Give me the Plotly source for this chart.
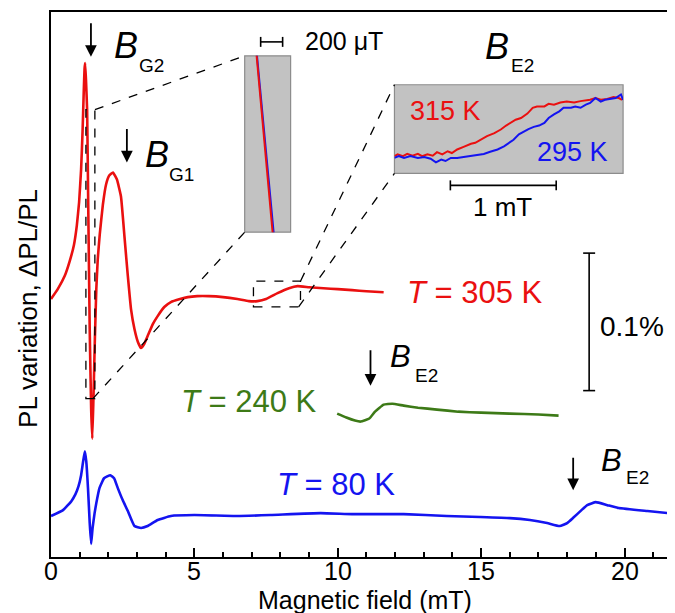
import plotly.graph_objects as go

# ---------------- data ----------------
# main traces: field in mT, ΔPL/PL in units of 1e-4 (0.01 %), relative to each trace's baseline
field_305 = [0.0, 0.24, 0.48, 0.65, 0.80, 0.90, 0.98, 1.05, 1.10, 1.14, 1.17, 1.19, 1.22, 1.26, 1.30, 1.35,
             1.40, 1.44, 1.48, 1.53, 1.58, 1.63, 1.70, 1.81, 1.92, 2.03, 2.16, 2.30, 2.44, 2.57, 2.68,
             2.79, 2.91, 3.03, 3.14, 3.25, 3.37, 3.55, 3.72, 3.95, 4.18, 4.5, 4.77, 5.1, 5.5, 6.0,
             6.5, 6.9, 7.2, 7.5, 7.9, 8.3, 8.6, 9.0, 9.5, 10.0, 10.5, 11.0, 11.6]
dpl_305 = [-0.14, 0.6, 1.55, 2.6, 3.8, 5.2, 6.9, 9.3, 12.0, 14.8, 16.6, 17.03, 15.8, 13.6, 6.38, -2.32,
           -8.12, -10.29, -7.39, -3.04, 0.58, 2.75, 4.57, 6.74, 8.19, 8.84, 9.06, 8.55, 7.32, 4.20, 1.52,
           -0.87, -2.32, -3.26, -3.70, -3.41, -2.83, -1.96, -1.38, -0.72, -0.36, -0.14, 0.0, 0.07, 0.07, 0.0,
           -0.14, -0.29, -0.29, -0.14, 0.29, 0.65, 0.80, 0.72, 0.65, 0.58, 0.51, 0.43, 0.36]

field_240 = [9.98, 10.3, 10.6, 10.8, 11.1, 11.3, 11.6, 11.9, 12.3, 12.8, 13.46, 14.2, 15.0, 16.0, 17.0, 17.7]
dpl_240 = [-0.07, -0.36, -0.58, -0.65, -0.43, 0.07, 0.58, 0.65, 0.51, 0.36, 0.22, 0.07, 0.0, -0.07, -0.14, -0.22]

field_80 = [0.0, 0.42, 0.71, 0.85, 0.96, 1.05, 1.12, 1.18, 1.23, 1.29, 1.35, 1.40, 1.45, 1.52, 1.58, 1.69, 1.85,
            2.07, 2.2, 2.33, 2.5, 2.68, 2.91, 3.14, 3.37, 3.72, 4.18, 5.0, 6.5, 7.66, 9.4, 10.5,
            12.3, 13.8, 14.96, 16.0, 16.7, 17.3, 17.74, 18.0, 18.2, 18.5, 18.7, 19.0, 19.4, 19.8, 20.8, 21.9]
dpl_80 = [-0.07, 0.36, 1.01, 1.5, 2.1, 2.9, 3.9, 4.64, 3.9, 1.96, -0.58, -2.10, -0.94, 0.14, 0.87, 1.96, 2.68,
          2.90, 2.68, 1.96, 1.09, 0.29, -0.80, -0.94, -0.80, -0.36, -0.07, 0.0, -0.07, 0.0, 0.14, 0.07,
          0.07, -0.07, -0.14, -0.22, -0.36, -0.58, -0.80, -0.58, -0.22, 0.36, 0.72, 0.94, 0.72, 0.51, 0.29, 0.07]

# inset 1 (B_G2 edge, 315 K vs 295 K)
ins1_field_315 = [1.298, 1.3735, 1.449]
ins1_dpl_315 = [14.5, 3.1, -8.3]
ins1_field_295 = [1.301, 1.378, 1.458]
ins1_dpl_295 = [14.5, 3.1, -8.3]

# inset 2 (B_E2 step, 315 K vs 295 K)
ins2_field_315 = [7.00, 7.03, 7.08, 7.12, 7.17, 7.22, 7.26, 7.31, 7.36, 7.40, 7.45, 7.50, 7.54, 7.59, 7.65,
                  7.72, 7.76, 7.81, 7.87, 7.94, 8.00, 8.05, 8.09, 8.14, 8.19, 8.25, 8.30, 8.34, 8.41, 8.45,
                  8.50, 8.56, 8.62, 8.69, 8.75, 8.84, 8.89, 8.94, 9.00, 9.06, 9.11, 9.14]
ins2_dpl_315 = [0.39, 0.43, 0.39, 0.44, 0.40, 0.44, 0.39, 0.43, 0.40, 0.48, 0.43, 0.50, 0.46, 0.54, 0.60,
                0.67, 0.69, 0.76, 0.84, 0.91, 0.99, 1.08, 1.14, 1.21, 1.25, 1.35, 1.48, 1.51, 1.51, 1.57,
                1.55, 1.60, 1.62, 1.60, 1.63, 1.66, 1.70, 1.66, 1.68, 1.72, 1.70, 1.66]
ins2_field_295 = [7.00, 7.04, 7.09, 7.15, 7.22, 7.28, 7.34, 7.39, 7.44, 7.48, 7.53, 7.59, 7.65, 7.72, 7.78,
                  7.84, 7.90, 7.97, 8.03, 8.08, 8.12, 8.17, 8.22, 8.26, 8.31, 8.36, 8.41, 8.45, 8.50, 8.55,
                  8.59, 8.66, 8.70, 8.75, 8.80, 8.84, 8.89, 8.94, 8.98, 9.03, 9.08, 9.13, 9.15]
ins2_dpl_295 = [0.35, 0.39, 0.35, 0.39, 0.35, 0.37, 0.33, 0.25, 0.31, 0.28, 0.35, 0.35, 0.37, 0.39, 0.41,
                0.44, 0.49, 0.54, 0.61, 0.69, 0.76, 0.88, 0.95, 1.00, 1.05, 1.08, 1.14, 1.25, 1.33, 1.40,
                1.48, 1.48, 1.51, 1.48, 1.55, 1.59, 1.70, 1.62, 1.66, 1.68, 1.70, 1.78, 1.66]

x_ticks = [0, 5, 10, 15, 20]
x_ticklabels = ["0", "5", "10", "15", "20"]

# ---------------- styling / layout ----------------
RED = "#ea1010"
GREEN = "#3d7a17"
BLUE = "#1414f0"
FONT = "Liberation Sans, Arial, Helvetica, sans-serif"

W, H = 675, 613
L, R, T, B = 43, 672, 2, 549          # plot area in pixels
off_305, off_240, off_80 = 18.9, 10.5, 3.05   # vertical stacking offsets


def px(p):
    return (p - L) / (R - L)


def py(p):
    return (B - p) / (B - T)


fig = go.Figure()
main_line = dict(width=2.6, shape="spline", smoothing=0.35)
fig.add_trace(go.Scatter(x=field_305, y=[v + off_305 for v in dpl_305], mode="lines",
                         line=dict(color=RED, **main_line)))
fig.add_trace(go.Scatter(x=field_240, y=[v + off_240 for v in dpl_240], mode="lines",
                         line=dict(color=GREEN, **main_line)))
fig.add_trace(go.Scatter(x=field_80, y=[v + off_80 for v in dpl_80], mode="lines",
                         line=dict(color=BLUE, **main_line)))

# inset 1
fig.add_trace(go.Scatter(x=ins1_field_295, y=ins1_dpl_295, mode="lines", xaxis="x2", yaxis="y2",
                         line=dict(color=BLUE, width=2)))
fig.add_trace(go.Scatter(x=ins1_field_315, y=ins1_dpl_315, mode="lines", xaxis="x2", yaxis="y2",
                         line=dict(color=RED, width=2)))
# inset 2
fig.add_trace(go.Scatter(x=ins2_field_315, y=ins2_dpl_315, mode="lines", xaxis="x3", yaxis="y3",
                         line=dict(color=RED, width=2)))
fig.add_trace(go.Scatter(x=ins2_field_295, y=ins2_dpl_295, mode="lines", xaxis="x3", yaxis="y3",
                         line=dict(color=BLUE, width=2)))

hidden = dict(showticklabels=False, ticks="", showgrid=False, zeroline=False, showline=False)

fig.update_layout(
    width=W, height=H,
    margin=dict(l=L, r=W - R, t=T, b=H - B),
    paper_bgcolor="white", plot_bgcolor="rgba(0,0,0,0)",
    showlegend=False,
    font=dict(family=FONT, color="black"),
    xaxis=dict(range=[0, 21.9], tickvals=x_ticks, ticks="inside", ticklen=9, tickwidth=1.5,
               tickcolor="black", showticklabels=False,
               minor=dict(dtick=1, ticks="inside", ticklen=5, tickwidth=1.5, tickcolor="black"),
               showline=True, linecolor="black", linewidth=2, mirror=True,
               showgrid=False, zeroline=False),
    yaxis=dict(range=[0, (B - T) / 13.8], showticklabels=False, ticks="",
               showline=True, linecolor="black", linewidth=2, mirror=True,
               showgrid=False, zeroline=False),
    xaxis2=dict(domain=[px(237), px(283)], range=[1.20, 1.60], anchor="y2", **hidden),
    yaxis2=dict(domain=[py(223), py(46)], range=[-7.4, 13.6], anchor="x2", **hidden),
    xaxis3=dict(domain=[px(387), px(616)], range=[7.0, 9.15], anchor="y3", **hidden),
    yaxis3=dict(domain=[py(164), py(75)], range=[0, 2.0], anchor="x3", **hidden),
)

shapes = []
dash = dict(color="black", width=1.3, dash="dash")
# grey inset panels
for ax in ["x2", "x3"]:
    shapes.append(dict(type="rect", xref=ax + " domain", yref=ax.replace("x", "y") + " domain",
                       x0=0, x1=1, y0=0, y1=1, layer="below",
                       fillcolor="#c2c2c2", line=dict(color="#8c8c8c", width=1.2)))
# dashed marker boxes on the main curve
shapes.append(dict(type="rect", xref="x", yref="y", x0=1.217, x1=1.53, y0=11.52, y1=32.54, line=dash))
shapes.append(dict(type="rect", xref="x", yref="y", x0=7.06, x1=8.70, y0=18.19, y1=20.07, line=dash))
# connecting dashed lines
for (a, b, c, d) in [(87, 100, 237, 46), (85, 390, 237, 223), (293, 272, 387, 75), (291, 298, 387, 164)]:
    shapes.append(dict(type="line", xref="paper", yref="paper", x0=px(a), y0=py(b), x1=px(c), y1=py(d), line=dash))
bar = dict(color="black", width=1.6)


def hbar(x0, x1, y, h):
    shapes.append(dict(type="line", xref="paper", yref="paper", x0=px(x0), x1=px(x1), y0=py(y), y1=py(y), line=bar))
    for xx in (x0, x1):
        shapes.append(dict(type="line", xref="paper", yref="paper", x0=px(xx), x1=px(xx),
                           y0=py(y - h), y1=py(y + h), line=bar))


hbar(253, 275, 32, 5)     # 200 µT
hbar(443, 549, 176, 5)    # 1 mT
# 0.1 % vertical bar
shapes.append(dict(type="line", xref="paper", yref="paper", x0=px(582), x1=px(582), y0=py(244), y1=py(382), line=bar))
for yy in (244, 382):
    shapes.append(dict(type="line", xref="paper", yref="paper", x0=px(576), x1=px(588), y0=py(yy), y1=py(yy), line=bar))
fig.update_layout(shapes=shapes)

ann = []


def text(t, x, y, size, color="black", **kw):
    ann.append(dict(text=t, x=px(x), y=py(y), xref="paper", yref="paper", showarrow=False,
                    xanchor="center", yanchor="middle", font=dict(size=size, color=color, family=FONT), **kw))


def arrow(x, ytop, ybot):
    ann.append(dict(text="", x=px(x), y=py(ybot), xref="paper", yref="paper", showarrow=True,
                    ax=0, ay=-(ybot - ytop), arrowhead=2, arrowsize=1.3, arrowwidth=1.8, arrowcolor="black"))


# x tick labels (placed at the tick values)
for v, lab in zip(x_ticks, x_ticklabels):
    ann.append(dict(text=lab, x=v, y=py(563), xref="x", yref="paper", showarrow=False,
                    xanchor="center", yanchor="middle", borderpad=0,
                    font=dict(size=25, family=FONT, color="black")))

# B labels
arrow(83, 12, 47)
text("<i>B</i>", 118, 36, 36)
text("G2", 144, 56, 19)
arrow(119, 118, 153)
text("<i>B</i>", 149, 145, 36)
text("G1", 174, 165, 19)
text("<i>B</i>", 490, 37, 36)
text("E2", 515, 56, 19)
arrow(363, 340, 377)
text("<i>B</i>", 393, 348, 31)
text("E2", 419, 367, 19)
arrow(566, 448, 482)
text("<i>B</i>", 604, 452, 31)
text("E2", 630, 469, 19)

# temperature labels
text("<i>T</i> = 305 K", 468, 284, 31, RED)
text("<i>T</i> = 240 K", 241, 393, 31, GREEN)
text("<i>T</i> = 80 K", 328, 476, 31, BLUE)
text("315 K", 438, 101, 27, RED)
text("295 K", 565, 143, 27, BLUE)
text("200 μT", 336, 31, 25)
text("1 mT", 495, 198, 26)
text("0.1%", 625, 318, 28)

# axis titles
text("Magnetic field (mT)", 357, 592, 25, borderpad=0)
text("PL variation, ΔPL/PL", 20, 300, 26, textangle=-90)

fig.update_layout(annotations=ann)
fig.write_html("out.html")
